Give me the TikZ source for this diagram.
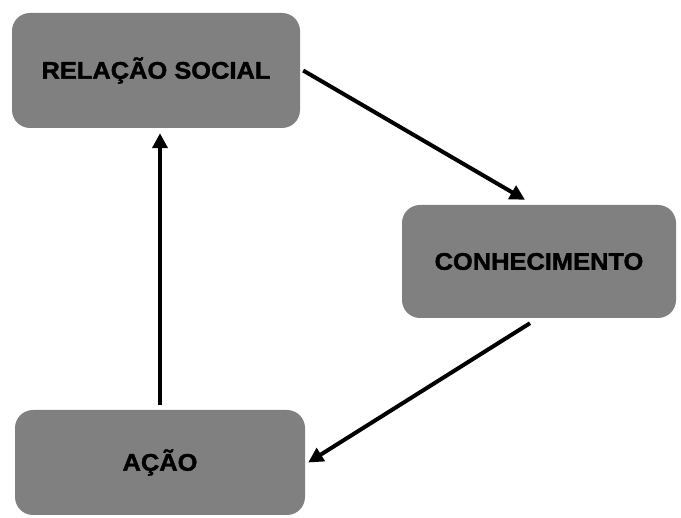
\documentclass[tikz,border=0pt]{standalone}
\usepackage{fontspec}
\newfontfamily\boxfont[FakeStretch=1.06,FakeBold=1.6]{Liberation Sans}
\usetikzlibrary{arrows.meta}
\begin{document}
\begin{tikzpicture}[x=1pt,y=-1pt,
  stage/.style={fill=black!50, rounded corners=18pt, inner sep=0pt,
    font=\boxfont\bfseries\fontsize{24}{28}\selectfont, text=black},
  flow/.style={line width=4pt, -{Triangle[length=15pt,width=15pt]}}]
  \useasboundingbox (0,0) rectangle (681,518);
  \node[stage, minimum width=288pt, minimum height=115pt] (rel) at (156,70.5) {RELAÇÃO SOCIAL};
  \node[stage, minimum width=274pt, minimum height=113pt] (con) at (539,261.5) {CONHECIMENTO};
  \node[stage, minimum width=290pt, minimum height=105pt] (aca) at (160,462.5) {AÇÃO};
  \draw[flow] ([xshift=3pt]rel.east) -- ([xshift=-14pt,yshift=5pt]con.north);
  \draw[flow] ([xshift=-9pt,yshift=-5pt]con.south) -- ([xshift=3pt]aca.east);
  \draw[flow] ([yshift=5pt]aca.north) -- ([yshift=-5pt]aca.north |- rel.south);
\end{tikzpicture}
\end{document}
